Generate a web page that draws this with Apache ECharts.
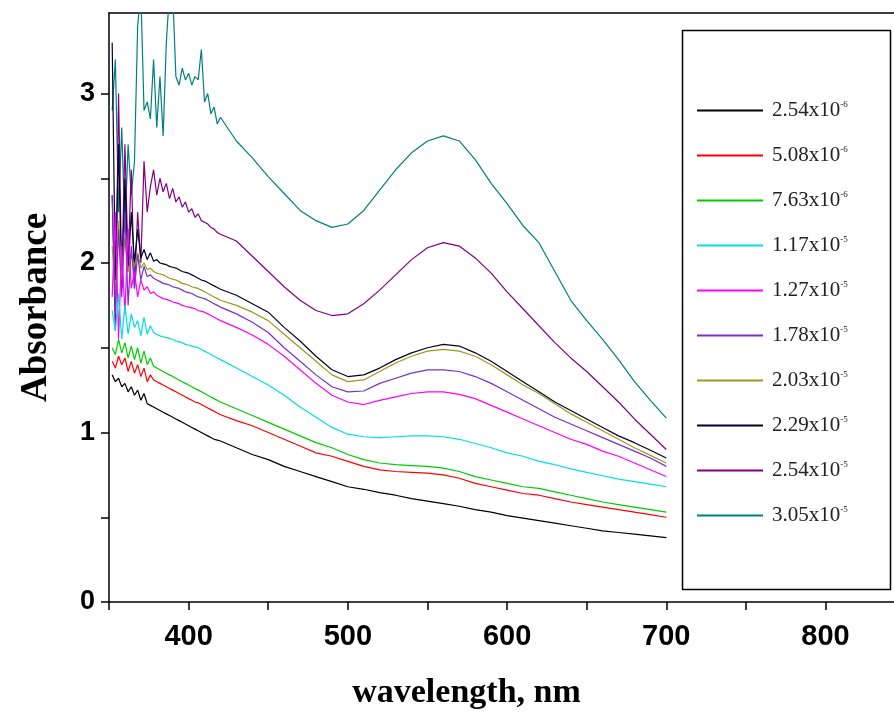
<!DOCTYPE html>
<html>
<head>
<meta charset="utf-8">
<script src="https://cdn.jsdelivr.net/npm/echarts@6/dist/echarts.min.js"></script>
<style>html,body{margin:0;padding:0;background:#fff;}#c{width:894px;height:714px;}</style>
</head>
<body>
<div id="c"></div>
<script>
const wavelengths = [352,354,356,358,360,362,364,366,368,370,372,374,376,378,380,382,384,386,388,390,392,394,396,398,400,402,404,406,408,410,412,414,416,418,420,
430,440,450,460,470,480,490,500,510,520,530,540,550,560,570,580,590,600,610,620,630,640,650,660,670,680,690,700];

const legendBase = ['2.54x10','5.08x10','7.63x10','1.17x10','1.27x10','1.78x10','2.03x10','2.29x10','2.54x10','3.05x10'];
const legendExp  = ['-6','-6','-6','-5','-5','-5','-5','-5','-5','-5'];
const colors = ['#000000','#ff0000','#00cc00','#00e0e0','#ff00ff','#7a2fc8','#9a9a1e','#00002e','#800080','#007f80'];

const s1 = [1.34,1.30,1.32,1.27,1.29,1.24,1.27,1.22,1.25,1.19,1.23,1.17,1.16,1.15,1.14,1.13,1.12,1.11,1.10,1.09,1.08,1.07,1.06,1.05,1.04,1.03,1.02,1.01,1.00,0.99,0.98,0.97,0.96,0.955,0.95,
0.91,0.87,0.84,0.80,0.77,0.74,0.71,0.68,0.665,0.645,0.63,0.61,0.595,0.58,0.565,0.545,0.53,0.51,0.495,0.48,0.465,0.45,0.435,0.42,0.41,0.40,0.39,0.38];
const s2 = [1.42,1.38,1.45,1.40,1.44,1.36,1.42,1.35,1.40,1.33,1.38,1.30,1.34,1.31,1.30,1.29,1.28,1.27,1.26,1.25,1.24,1.23,1.22,1.21,1.20,1.19,1.18,1.175,1.165,1.155,1.145,1.135,1.125,1.115,1.105,
1.07,1.04,1.00,0.96,0.92,0.88,0.86,0.83,0.80,0.78,0.77,0.765,0.76,0.75,0.73,0.70,0.68,0.66,0.64,0.63,0.61,0.59,0.575,0.56,0.545,0.53,0.515,0.50];
const s3 = [1.50,1.46,1.55,1.47,1.53,1.44,1.51,1.43,1.50,1.41,1.48,1.40,1.44,1.39,1.38,1.37,1.36,1.35,1.34,1.33,1.32,1.31,1.30,1.29,1.28,1.27,1.26,1.25,1.24,1.23,1.22,1.21,1.20,1.19,1.18,
1.14,1.10,1.06,1.02,0.98,0.94,0.91,0.87,0.84,0.82,0.81,0.805,0.80,0.79,0.77,0.74,0.72,0.70,0.68,0.67,0.65,0.63,0.61,0.59,0.575,0.56,0.545,0.53];
const s4 = [1.72,1.60,1.82,1.55,1.75,1.58,1.70,1.62,1.66,1.57,1.68,1.58,1.63,1.59,1.58,1.57,1.565,1.56,1.555,1.55,1.54,1.535,1.53,1.52,1.515,1.51,1.505,1.50,1.49,1.48,1.47,1.46,1.45,1.44,1.43,
1.38,1.33,1.28,1.22,1.15,1.09,1.03,0.99,0.975,0.97,0.975,0.98,0.98,0.975,0.96,0.935,0.91,0.88,0.86,0.83,0.81,0.785,0.765,0.745,0.725,0.71,0.695,0.68];
const s5 = [1.80,2.30,1.55,2.10,1.70,2.20,1.85,1.95,1.80,1.90,1.84,1.86,1.82,1.83,1.81,1.80,1.79,1.785,1.78,1.77,1.765,1.76,1.75,1.745,1.74,1.735,1.73,1.72,1.715,1.71,1.70,1.69,1.68,1.67,1.66,
1.62,1.575,1.52,1.45,1.37,1.29,1.22,1.18,1.165,1.19,1.21,1.23,1.24,1.24,1.225,1.20,1.16,1.12,1.08,1.04,1.00,0.96,0.93,0.89,0.86,0.82,0.78,0.74];
const s6 = [2.40,1.70,2.20,1.80,2.30,1.75,2.10,1.85,2.05,1.90,1.98,1.92,1.93,1.91,1.90,1.89,1.88,1.875,1.87,1.86,1.855,1.85,1.84,1.83,1.825,1.82,1.81,1.80,1.795,1.79,1.78,1.77,1.76,1.75,1.74,
1.70,1.65,1.59,1.50,1.42,1.34,1.27,1.24,1.245,1.29,1.32,1.35,1.37,1.37,1.36,1.33,1.29,1.24,1.19,1.14,1.09,1.05,1.01,0.97,0.93,0.89,0.85,0.80];
const s7 = [2.10,1.80,2.25,1.90,2.15,1.95,2.05,1.98,2.06,1.97,2.00,1.96,1.97,1.95,1.94,1.935,1.93,1.92,1.91,1.905,1.90,1.89,1.88,1.875,1.87,1.86,1.855,1.85,1.84,1.83,1.82,1.81,1.80,1.79,1.78,
1.75,1.71,1.66,1.58,1.50,1.42,1.34,1.30,1.31,1.36,1.41,1.45,1.48,1.49,1.48,1.45,1.40,1.34,1.28,1.23,1.17,1.11,1.06,1.01,0.96,0.91,0.865,0.82];
const s8 = [3.30,1.90,2.70,1.85,2.50,1.95,2.30,2.00,2.20,2.03,2.08,2.02,2.06,2.01,2.02,2.00,1.995,1.99,1.98,1.975,1.97,1.96,1.95,1.945,1.94,1.93,1.92,1.91,1.90,1.895,1.885,1.875,1.865,1.855,1.845,
1.81,1.76,1.71,1.62,1.54,1.45,1.37,1.33,1.34,1.38,1.43,1.47,1.50,1.52,1.51,1.47,1.42,1.36,1.30,1.24,1.18,1.13,1.08,1.03,0.98,0.94,0.895,0.85];
const s9 = [2.40,1.60,3.00,1.90,2.70,2.00,2.55,1.85,2.30,2.00,2.60,2.30,2.45,2.55,2.40,2.50,2.42,2.47,2.38,2.44,2.36,2.39,2.33,2.36,2.30,2.32,2.27,2.29,2.25,2.24,2.23,2.21,2.20,2.18,2.17,
2.13,2.04,1.95,1.86,1.78,1.72,1.69,1.70,1.76,1.84,1.93,2.02,2.09,2.12,2.10,2.03,1.94,1.83,1.73,1.63,1.53,1.44,1.36,1.27,1.18,1.08,0.99,0.90];
const s10 = [2.90,3.20,2.30,2.80,2.20,2.70,2.40,2.60,3.40,3.60,2.90,2.95,2.85,3.20,2.80,3.10,2.75,3.30,3.60,3.60,3.10,3.05,3.15,3.08,3.12,3.05,3.10,3.08,3.26,2.95,3.00,2.88,2.92,2.82,2.86,
2.72,2.62,2.51,2.41,2.31,2.25,2.21,2.23,2.31,2.43,2.55,2.65,2.72,2.75,2.72,2.61,2.47,2.35,2.22,2.12,1.95,1.78,1.66,1.55,1.43,1.30,1.19,1.085];

const seriesValues = [s1,s2,s3,s4,s5,s6,s7,s8,s9,s10];
const xTicks = [400,500,600,700,800];
const yTicks = [0,1,2,3];

const names = legendBase.map((b,i)=> b + legendExp[i]);

const chart = echarts.init(document.getElementById('c'), null, {renderer:'canvas'});

const series = seriesValues.map((vals,i)=>({
  name: names[i],
  type: 'line',
  data: wavelengths.map((w,j)=>[w, vals[j]]),
  symbol: 'none',
  showSymbol: false,
  lineStyle: {color: colors[i], width: 1.2},
  itemStyle: {color: colors[i]},
  z: 2 + (seriesValues.length - i),
  animation: false,
  clip: true
}));

chart.setOption({
  animation: false,
  backgroundColor: '#ffffff',
  grid: {left: 109, top: 13, right: 0, bottom: 112, containLabel: false, outerBoundsMode: 'none'},
  xAxis: [{
    type: 'value', min: 350, max: 843, interval: 50,
    name: 'wavelength, nm', nameLocation: 'middle', nameGap: 74,
    nameTextStyle: {fontFamily: 'Liberation Serif', fontWeight: 'bold', fontSize: 34, color: '#000', padding: [0, 70, 0, 0]},
    axisLine: {show: true, onZero: false, lineStyle: {color: '#000', width: 1.5}},
    axisTick: {show: true, length: 8, inside: false, lineStyle: {color: '#000', width: 1.5}},
    axisLabel: {
      show: true, margin: 20, color: '#000', fontFamily: 'Liberation Sans', fontWeight: 'bold', fontSize: 29,
      showMaxLabel: false,
      formatter: v => xTicks.indexOf(v) >= 0 ? String(v) : ''
    },
    splitLine: {show: false}
  },{
    type: 'value', position: 'top', min: 350, max: 843,
    axisLine: {show: true, onZero: false, lineStyle: {color: '#000', width: 1.5}},
    axisTick: {show: false}, axisLabel: {show: false}, splitLine: {show: false}
  }],
  yAxis: {
    type: 'value', min: 0, max: 3.475, interval: 0.5,
    name: 'Absorbance', nameLocation: 'middle', nameGap: 54,
    nameTextStyle: {fontFamily: 'Liberation Serif', fontWeight: 'bold', fontSize: 37, color: '#000'},
    axisLine: {show: true, onZero: false, lineStyle: {color: '#000', width: 1.5}},
    axisTick: {show: true, length: 8, inside: false, lineStyle: {color: '#000', width: 1.5}},
    axisLabel: {
      show: true, margin: 14, color: '#000', fontFamily: 'Liberation Sans', fontWeight: 'bold', fontSize: 27,
      showMaxLabel: false,
      formatter: v => yTicks.indexOf(v) >= 0 ? String(v) : ''
    },
    splitLine: {show: false}
  },
  legend: {
    orient: 'vertical', left: 692, top: 95,
    itemWidth: 66, itemHeight: 2, itemGap: 24, icon: 'rect',
    data: names,
    selectedMode: false,
    formatter: function(name){
      const i = names.indexOf(name);
      return '{b|' + legendBase[i] + '}{s|' + legendExp[i] + '}';
    },
    textStyle: {
      lineHeight: 20,
      rich: {
        b: {fontFamily: 'Liberation Serif', fontSize: 21, color: '#222', lineHeight: 20, padding: [0,0,0,4]},
        s: {fontFamily: 'Liberation Serif', fontSize: 9, color: '#222', lineHeight: 20, verticalAlign: 'top'}
      }
    }
  },
  graphic: [{
    type: 'rect', left: 680, top: 28, z: 100, silent: true,
    shape: {width: 208, height: 559},
    style: {fill: 'none', stroke: '#000', lineWidth: 1.5}
  }],
  series: series
});
</script>
</body>
</html>
